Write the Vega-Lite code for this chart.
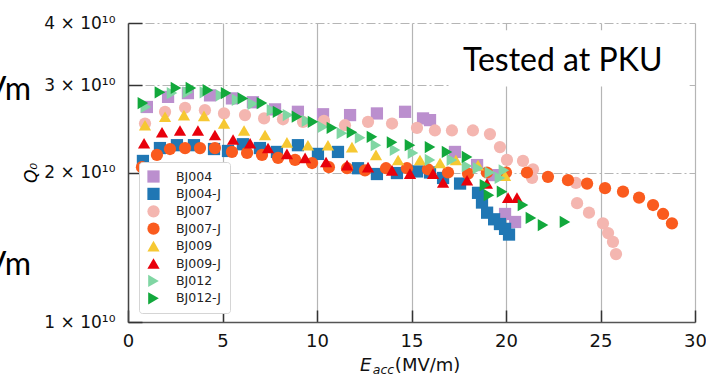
{
  "$schema": "https://vega.github.io/schema/vega-lite/v6.json",
  "width": 567,
  "height": 299,
  "autosize": {"type": "none"},
  "padding": {"left": 128, "top": 23, "right": 11, "bottom": 55},
  "background": "white",
  "config": {"view": {"stroke": null}, "font": "DejaVu Sans"},
  "layer": [
    {
      "data": {"values": [{}]},
      "mark": {"type": "rect", "fill": "white"},
      "encoding": {
        "x": {"datum": 17.04, "type": "quantitative", "scale": {"domain": [0, 30], "nice": false, "zero": false}},
        "x2": {"datum": 29.7},
        "y": {"datum": 3.87e10, "type": "quantitative", "scale": {"type": "log", "domain": [1e10, 4e10], "nice": false}},
        "y2": {"datum": 2.98e10}
      }
    },
    {
      "data": {"values": [
        {"s":"BJ004","E":1.0,"Q0":2.71e10},{"s":"BJ004","E":2.12,"Q0":2.84e10},{"s":"BJ004","E":3.17,"Q0":2.89e10},{"s":"BJ004","E":4.34,"Q0":2.86e10},{"s":"BJ004","E":5.5,"Q0":2.82e10},{"s":"BJ004","E":6.61,"Q0":2.77e10},{"s":"BJ004","E":7.78,"Q0":2.68e10},{"s":"BJ004","E":8.99,"Q0":2.65e10},{"s":"BJ004","E":10.32,"Q0":2.62e10},{"s":"BJ004","E":11.75,"Q0":2.61e10},{"s":"BJ004","E":13.17,"Q0":2.63e10},{"s":"BJ004","E":14.66,"Q0":2.65e10},{"s":"BJ004","E":15.61,"Q0":2.57e10},{"s":"BJ004","E":15.98,"Q0":2.55e10},{"s":"BJ004","E":17.3,"Q0":2.20e10},{"s":"BJ004","E":18.47,"Q0":2.07e10},{"s":"BJ004","E":19.31,"Q0":1.976e10},{"s":"BJ004","E":19.95,"Q0":1.65e10},{"s":"BJ004","E":20.48,"Q0":1.59e10},
        {"s":"BJ004-J","E":0.79,"Q0":2.11e10},{"s":"BJ004-J","E":1.69,"Q0":2.24e10},{"s":"BJ004-J","E":2.59,"Q0":2.27e10},{"s":"BJ004-J","E":3.49,"Q0":2.27e10},{"s":"BJ004-J","E":4.55,"Q0":2.23e10},{"s":"BJ004-J","E":5.29,"Q0":2.21e10},{"s":"BJ004-J","E":6.08,"Q0":2.28e10},{"s":"BJ004-J","E":6.98,"Q0":2.24e10},{"s":"BJ004-J","E":7.88,"Q0":2.20e10},{"s":"BJ004-J","E":8.99,"Q0":2.27e10},{"s":"BJ004-J","E":10.05,"Q0":2.18e10},{"s":"BJ004-J","E":11.11,"Q0":2.20e10},{"s":"BJ004-J","E":12.17,"Q0":2.04e10},{"s":"BJ004-J","E":13.17,"Q0":1.986e10},{"s":"BJ004-J","E":14.23,"Q0":1.995e10},{"s":"BJ004-J","E":15.29,"Q0":2.01e10},{"s":"BJ004-J","E":15.98,"Q0":2.0e10},{"s":"BJ004-J","E":16.67,"Q0":1.95e10},{"s":"BJ004-J","E":17.57,"Q0":1.90e10},{"s":"BJ004-J","E":18.52,"Q0":1.82e10},{"s":"BJ004-J","E":18.73,"Q0":1.74e10},{"s":"BJ004-J","E":19.0,"Q0":1.66e10},{"s":"BJ004-J","E":19.37,"Q0":1.61e10},{"s":"BJ004-J","E":19.68,"Q0":1.575e10},{"s":"BJ004-J","E":19.95,"Q0":1.54e10},{"s":"BJ004-J","E":20.16,"Q0":1.50e10},
        {"s":"BJ007","E":0.9,"Q0":2.51e10},{"s":"BJ007","E":1.96,"Q0":2.65e10},{"s":"BJ007","E":3.02,"Q0":2.70e10},{"s":"BJ007","E":4.07,"Q0":2.67e10},{"s":"BJ007","E":5.08,"Q0":2.63e10},{"s":"BJ007","E":6.19,"Q0":2.61e10},{"s":"BJ007","E":7.2,"Q0":2.57e10},{"s":"BJ007","E":8.2,"Q0":2.56e10},{"s":"BJ007","E":9.26,"Q0":2.53e10},{"s":"BJ007","E":10.37,"Q0":2.54e10},{"s":"BJ007","E":11.48,"Q0":2.49e10},{"s":"BJ007","E":12.7,"Q0":2.53e10},{"s":"BJ007","E":13.97,"Q0":2.51e10},{"s":"BJ007","E":15.29,"Q0":2.46e10},{"s":"BJ007","E":16.24,"Q0":2.43e10},{"s":"BJ007","E":17.14,"Q0":2.43e10},{"s":"BJ007","E":18.25,"Q0":2.43e10},{"s":"BJ007","E":19.15,"Q0":2.39e10},{"s":"BJ007","E":19.68,"Q0":2.25e10},{"s":"BJ007","E":20.05,"Q0":2.12e10},{"s":"BJ007","E":20.9,"Q0":2.11e10},{"s":"BJ007","E":21.43,"Q0":2.03e10},{"s":"BJ007","E":21.38,"Q0":1.95e10},{"s":"BJ007","E":23.7,"Q0":1.905e10},{"s":"BJ007","E":23.76,"Q0":1.735e10},{"s":"BJ007","E":24.39,"Q0":1.66e10},{"s":"BJ007","E":25.13,"Q0":1.58e10},{"s":"BJ007","E":25.4,"Q0":1.51e10},{"s":"BJ007","E":25.66,"Q0":1.45e10},{"s":"BJ007","E":25.82,"Q0":1.37e10},
        {"s":"BJ007-J","E":0.74,"Q0":2.05e10},{"s":"BJ007-J","E":1.53,"Q0":2.17e10},{"s":"BJ007-J","E":2.22,"Q0":2.23e10},{"s":"BJ007-J","E":3.02,"Q0":2.24e10},{"s":"BJ007-J","E":3.81,"Q0":2.24e10},{"s":"BJ007-J","E":4.6,"Q0":2.24e10},{"s":"BJ007-J","E":5.5,"Q0":2.20e10},{"s":"BJ007-J","E":6.3,"Q0":2.19e10},{"s":"BJ007-J","E":7.09,"Q0":2.17e10},{"s":"BJ007-J","E":7.94,"Q0":2.14e10},{"s":"BJ007-J","E":8.84,"Q0":2.12e10},{"s":"BJ007-J","E":9.74,"Q0":2.09e10},{"s":"BJ007-J","E":10.63,"Q0":2.05e10},{"s":"BJ007-J","E":11.59,"Q0":2.04e10},{"s":"BJ007-J","E":12.54,"Q0":2.02e10},{"s":"BJ007-J","E":13.65,"Q0":2.04e10},{"s":"BJ007-J","E":14.76,"Q0":2.04e10},{"s":"BJ007-J","E":15.87,"Q0":2.03e10},{"s":"BJ007-J","E":16.93,"Q0":2.0e10},{"s":"BJ007-J","E":17.99,"Q0":1.99e10},{"s":"BJ007-J","E":18.99,"Q0":2.0e10},{"s":"BJ007-J","E":20.0,"Q0":2.0e10},{"s":"BJ007-J","E":21.11,"Q0":2.0e10},{"s":"BJ007-J","E":22.22,"Q0":1.96e10},{"s":"BJ007-J","E":23.28,"Q0":1.93e10},{"s":"BJ007-J","E":24.29,"Q0":1.90e10},{"s":"BJ007-J","E":25.24,"Q0":1.86e10},{"s":"BJ007-J","E":26.19,"Q0":1.83e10},{"s":"BJ007-J","E":27.04,"Q0":1.78e10},{"s":"BJ007-J","E":27.78,"Q0":1.72e10},{"s":"BJ007-J","E":28.31,"Q0":1.65e10},{"s":"BJ007-J","E":28.78,"Q0":1.58e10},
        {"s":"BJ009","E":0.9,"Q0":2.49e10},{"s":"BJ009","E":1.96,"Q0":2.59e10},{"s":"BJ009","E":2.96,"Q0":2.61e10},{"s":"BJ009","E":4.02,"Q0":2.60e10},{"s":"BJ009","E":5.08,"Q0":2.51e10},{"s":"BJ009","E":6.14,"Q0":2.43e10},{"s":"BJ009","E":7.25,"Q0":2.38e10},{"s":"BJ009","E":8.41,"Q0":2.30e10},{"s":"BJ009","E":9.52,"Q0":2.27e10},{"s":"BJ009","E":10.58,"Q0":2.27e10},{"s":"BJ009","E":11.85,"Q0":2.25e10},{"s":"BJ009","E":13.12,"Q0":2.17e10},{"s":"BJ009","E":14.29,"Q0":2.12e10},{"s":"BJ009","E":15.45,"Q0":2.12e10},{"s":"BJ009","E":16.51,"Q0":2.09e10},{"s":"BJ009","E":17.35,"Q0":2.12e10},{"s":"BJ009","E":18.52,"Q0":2.07e10},{"s":"BJ009","E":19.95,"Q0":1.97e10},
        {"s":"BJ009-J","E":0.85,"Q0":2.29e10},{"s":"BJ009-J","E":1.8,"Q0":2.41e10},{"s":"BJ009-J","E":2.75,"Q0":2.43e10},{"s":"BJ009-J","E":3.7,"Q0":2.43e10},{"s":"BJ009-J","E":4.6,"Q0":2.38e10},{"s":"BJ009-J","E":5.56,"Q0":2.33e10},{"s":"BJ009-J","E":6.46,"Q0":2.29e10},{"s":"BJ009-J","E":7.41,"Q0":2.24e10},{"s":"BJ009-J","E":8.41,"Q0":2.18e10},{"s":"BJ009-J","E":9.37,"Q0":2.14e10},{"s":"BJ009-J","E":10.48,"Q0":2.10e10},{"s":"BJ009-J","E":11.59,"Q0":2.07e10},{"s":"BJ009-J","E":12.7,"Q0":2.05e10},{"s":"BJ009-J","E":13.97,"Q0":2.02e10},{"s":"BJ009-J","E":14.92,"Q0":1.99e10},{"s":"BJ009-J","E":16.14,"Q0":1.99e10},{"s":"BJ009-J","E":16.67,"Q0":1.91e10},{"s":"BJ009-J","E":17.94,"Q0":1.93e10},{"s":"BJ009-J","E":18.99,"Q0":1.90e10},{"s":"BJ009-J","E":20.11,"Q0":1.78e10},{"s":"BJ009-J","E":20.58,"Q0":1.78e10},
        {"s":"BJ012","E":0.95,"Q0":2.71e10},{"s":"BJ012","E":2.33,"Q0":2.89e10},{"s":"BJ012","E":3.17,"Q0":2.90e10},{"s":"BJ012","E":4.07,"Q0":2.90e10},{"s":"BJ012","E":4.92,"Q0":2.86e10},{"s":"BJ012","E":5.77,"Q0":2.80e10},{"s":"BJ012","E":6.61,"Q0":2.75e10},{"s":"BJ012","E":7.62,"Q0":2.67e10},{"s":"BJ012","E":8.47,"Q0":2.61e10},{"s":"BJ012","E":9.47,"Q0":2.54e10},{"s":"BJ012","E":10.32,"Q0":2.47e10},{"s":"BJ012","E":11.32,"Q0":2.40e10},{"s":"BJ012","E":12.28,"Q0":2.35e10},{"s":"BJ012","E":13.12,"Q0":2.27e10},{"s":"BJ012","E":14.13,"Q0":2.22e10},{"s":"BJ012","E":15.08,"Q0":2.19e10},{"s":"BJ012","E":15.98,"Q0":2.12e10},{"s":"BJ012","E":17.14,"Q0":2.12e10},{"s":"BJ012","E":17.94,"Q0":2.06e10},{"s":"BJ012","E":18.52,"Q0":2.04e10},{"s":"BJ012","E":19.15,"Q0":2.0e10},{"s":"BJ012","E":19.68,"Q0":1.95e10},{"s":"BJ012","E":19.89,"Q0":2.02e10},
        {"s":"BJ012-J","E":0.79,"Q0":2.76e10},{"s":"BJ012-J","E":1.69,"Q0":2.90e10},{"s":"BJ012-J","E":2.54,"Q0":2.96e10},{"s":"BJ012-J","E":3.33,"Q0":2.96e10},{"s":"BJ012-J","E":4.23,"Q0":2.93e10},{"s":"BJ012-J","E":5.19,"Q0":2.89e10},{"s":"BJ012-J","E":6.08,"Q0":2.82e10},{"s":"BJ012-J","E":7.09,"Q0":2.76e10},{"s":"BJ012-J","E":7.94,"Q0":2.65e10},{"s":"BJ012-J","E":8.94,"Q0":2.59e10},{"s":"BJ012-J","E":9.79,"Q0":2.53e10},{"s":"BJ012-J","E":10.79,"Q0":2.46e10},{"s":"BJ012-J","E":11.85,"Q0":2.41e10},{"s":"BJ012-J","E":12.91,"Q0":2.36e10},{"s":"BJ012-J","E":13.97,"Q0":2.30e10},{"s":"BJ012-J","E":14.92,"Q0":2.27e10},{"s":"BJ012-J","E":15.98,"Q0":2.25e10},{"s":"BJ012-J","E":16.88,"Q0":2.20e10},{"s":"BJ012-J","E":17.94,"Q0":2.15e10},{"s":"BJ012-J","E":18.89,"Q0":1.887e10},{"s":"BJ012-J","E":19.1,"Q0":1.80e10},{"s":"BJ012-J","E":19.79,"Q0":1.83e10},{"s":"BJ012-J","E":20.9,"Q0":1.72e10},{"s":"BJ012-J","E":21.32,"Q0":1.62e10},{"s":"BJ012-J","E":21.96,"Q0":1.567e10},{"s":"BJ012-J","E":23.12,"Q0":1.59e10}
      ]},
      "mark": {"type": "point", "filled": true, "opacity": 1, "size": 150},
      "encoding": {
        "x": {
          "field": "E", "type": "quantitative",
          "scale": {"domain": [0, 30], "nice": false, "zero": false},
          "axis": {
            "title": null, "values": [0, 5, 10, 15, 20, 25, 30], "format": "d",
            "labelFont": "DejaVu Sans", "labelFontSize": 18, "labelColor": "#111", "labelFlush": false, "labelOverlap": false,
            "tickSize": -12, "tickColor": "#333", "tickWidth": 1.5, "labelPadding": 22,
            "domainColor": "#555", "domainWidth": 1.5,
            "grid": true, "gridColor": "#b5b5b5", "gridWidth": 1.2
          }
        },
        "y": {
          "field": "Q0", "type": "quantitative",
          "scale": {"type": "log", "domain": [1e10, 4e10], "nice": false},
          "axis": {
            "title": "Q₀", "titleFont": "DejaVu Sans", "titleFontStyle": "italic", "titleFontWeight": "normal", "titleFontSize": 17, "titleColor": "#000", "titlePadding": 3,
            "values": [1e10, 2e10, 3e10, 4e10], "labelExpr": "round(datum.value / 1e10) + ' × 10¹⁰'",
            "labelFont": "DejaVu Sans", "labelFontSize": 17, "labelColor": "#111", "labelPadding": 27,
            "tickSize": -14, "tickColor": "#333", "tickWidth": 1.5,
            "domainColor": "#444", "domainWidth": 1.5,
            "grid": true, "gridColor": "#b5b5b5", "gridWidth": 1, "gridDash": [9, 3, 2, 3]
          }
        },
        "color": {
          "field": "s", "type": "nominal",
          "scale": {
            "domain": ["BJ004", "BJ004-J", "BJ007", "BJ007-J", "BJ009", "BJ009-J", "BJ012", "BJ012-J"],
            "range": ["#bb8fce", "#2077b4", "#f4b6b0", "#fa5b1e", "#f6c832", "#e8000b", "#80d6a3", "#12a83c"]
          },
          "legend": {
            "title": null, "orient": "none", "legendX": 11, "legendY": 139,
            "fillColor": "white", "strokeColor": "#d5d5d5", "cornerRadius": 3, "padding": 8,
            "labelFont": "DejaVu Sans", "labelFontSize": 12.5, "labelColor": "#222",
            "symbolSize": 150, "symbolStrokeWidth": 0, "labelOffset": 16, "rowPadding": 4.4
          }
        },
        "shape": {
          "field": "s", "type": "nominal",
          "scale": {
            "domain": ["BJ004", "BJ004-J", "BJ007", "BJ007-J", "BJ009", "BJ009-J", "BJ012", "BJ012-J"],
            "range": ["square", "square", "circle", "circle", "triangle-up", "triangle-up", "triangle-right", "triangle-right"]
          }
        }
      }
    },
    {
      "data": {"values": [{}]},
      "mark": {"type": "text", "text": "Tested at PKU", "font": "Lato", "fontSize": 32, "align": "center", "baseline": "alphabetic", "color": "#000"},
      "encoding": {
        "x": {"datum": 23.0, "type": "quantitative", "scale": {"domain": [0, 30], "nice": false, "zero": false}},
        "y": {"datum": 3.2e10, "type": "quantitative", "scale": {"type": "log", "domain": [1e10, 4e10], "nice": false}}
      }
    },
    {
      "data": {"values": [{}]},
      "mark": {"type": "text", "text": "Vm", "font": "Lato", "fontSize": 32, "align": "right", "baseline": "alphabetic", "color": "#000"},
      "encoding": {
        "x": {"datum": -5.13, "type": "quantitative", "scale": {"domain": [0, 30], "nice": false, "zero": false}},
        "y": {"datum": 2.8e10, "type": "quantitative", "scale": {"type": "log", "domain": [1e10, 4e10], "nice": false}}
      }
    },
    {
      "data": {"values": [{}]},
      "mark": {"type": "text", "text": "Vm", "font": "Lato", "fontSize": 32, "align": "right", "baseline": "alphabetic", "color": "#000"},
      "encoding": {
        "x": {"datum": -5.13, "type": "quantitative", "scale": {"domain": [0, 30], "nice": false, "zero": false}},
        "y": {"datum": 1.243e10, "type": "quantitative", "scale": {"type": "log", "domain": [1e10, 4e10], "nice": false}}
      }
    },
    {
      "data": {"values": [{}]},
      "mark": {"type": "text", "text": "E", "font": "DejaVu Sans", "fontStyle": "italic", "fontSize": 18, "align": "left", "baseline": "alphabetic", "color": "#111"},
      "encoding": {
        "x": {"datum": 12.28, "type": "quantitative", "scale": {"domain": [0, 30], "nice": false, "zero": false}},
        "y": {"datum": 0.797e10, "type": "quantitative", "scale": {"type": "log", "domain": [1e10, 4e10], "nice": false}}
      }
    },
    {
      "data": {"values": [{}]},
      "mark": {"type": "text", "text": "acc", "font": "DejaVu Sans", "fontStyle": "italic", "fontSize": 12.5, "align": "left", "baseline": "alphabetic", "dy": 3, "color": "#111"},
      "encoding": {
        "x": {"datum": 12.95, "type": "quantitative", "scale": {"domain": [0, 30], "nice": false, "zero": false}},
        "y": {"datum": 0.797e10, "type": "quantitative", "scale": {"type": "log", "domain": [1e10, 4e10], "nice": false}}
      }
    },
    {
      "data": {"values": [{}]},
      "mark": {"type": "text", "text": "(MV/m)", "font": "DejaVu Sans", "fontSize": 18, "align": "left", "baseline": "alphabetic", "color": "#111"},
      "encoding": {
        "x": {"datum": 14.12, "type": "quantitative", "scale": {"domain": [0, 30], "nice": false, "zero": false}},
        "y": {"datum": 0.797e10, "type": "quantitative", "scale": {"type": "log", "domain": [1e10, 4e10], "nice": false}}
      }
    }
  ]
}
